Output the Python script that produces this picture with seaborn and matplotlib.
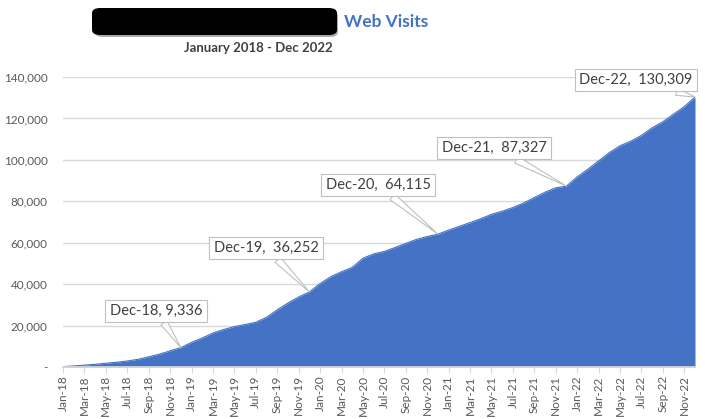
import matplotlib
matplotlib.use("Agg")
import matplotlib.pyplot as plt
import seaborn as sns
import pandas as pd
import numpy as np
from matplotlib.patches import FancyBboxPatch
from matplotlib.ticker import FuncFormatter

# ---- data ----
months = pd.date_range("2018-01-01", "2022-12-01", freq="MS")
month_labels = [d.strftime("%b-%y") for d in months]
visits = [
    200, 500, 900, 1300, 1800, 2300, 2900, 3700, 4900, 6200, 7800, 9336,
    11900, 14000, 16400, 18100, 19500, 20500, 21600, 24000, 27600, 30900, 33800, 36252,
    40300, 43600, 46000, 48100, 52500, 54600, 55800, 57700, 59700, 61600, 63000, 64115,
    66100, 67900, 69700, 71600, 73700, 75200, 77000, 79200, 81800, 84400, 86500, 87327,
    91800, 95500, 99500, 103500, 106800, 109000, 111800, 115500, 118400, 122100, 125700, 130309,
]
callout_idx = [11, 23, 35, 47, 59]
callout_text = ["Dec-18, 9,336", "Dec-19,  36,252", "Dec-20,  64,115", "Dec-21,  87,327", "Dec-22,  130,309"]
callout_pos = [(156, 311), (266, 248), (378, 185), (494, 148), (636, 80)]  # pixel centers
yticks = [0, 20000, 40000, 60000, 80000, 100000, 120000, 140000]

df = pd.DataFrame({"idx": np.arange(len(visits)), "visits": visits, "label": month_labels})

sns.set_theme(style="white")
plt.rcParams["font.family"] = ["Lato", "DejaVu Sans"]

W, H = 705, 419
fig = plt.figure(figsize=(W / 100, H / 100), dpi=100)
ax = fig.add_axes([63 / W, 1 - 367 / H, (695 - 63) / W, (367 - 77) / H])

blue = "#4472C4"
sns.lineplot(data=df, x="idx", y="visits", ax=ax, color=blue, linewidth=0.8)
ax.fill_between(df["idx"], 0, df["visits"], color=blue, linewidth=0, zorder=2)

ax.set_xlim(0, len(visits) - 1)
ax.set_ylim(0, 140000)
ax.set_yticks(yticks)
ax.yaxis.set_major_formatter(FuncFormatter(lambda v, p: "-" if v == 0 else f"{int(v):,}"))
ax.set_xticks(df["idx"][::2])
ax.set_xticklabels(df["label"][::2], rotation=90)
ax.set_xlabel("")
ax.set_ylabel("")
ax.grid(axis="y", color="#D9D9D9", linewidth=1, zorder=0)
ax.set_axisbelow(True)
for s in ["top", "right", "left"]:
    ax.spines[s].set_visible(False)
ax.spines["bottom"].set_color("#D9D9D9")
ax.tick_params(axis="y", length=0, pad=11, labelsize=8.5, labelcolor="#595959")
ax.tick_params(axis="x", length=4, width=0.8, color="#D9D9D9", direction="out", pad=2,
               labelsize=8.5, labelcolor="#595959", bottom=True)

# callouts
for i, txt, (px, py) in zip(callout_idx, callout_text, callout_pos):
    ax.annotate(
        txt, xy=(df["idx"][i], df["visits"][i]), xycoords="data",
        xytext=(px / W, 1 - py / H), textcoords="figure fraction",
        ha="center", va="center", fontsize=10.5, color="#404040",
        bbox=dict(boxstyle="square,pad=0.3", fc="white", ec="#BFBFBF", lw=0.8),
        arrowprops=dict(arrowstyle="wedge,tail_width=0.5,shrink_factor=0.5", fc="white",
                        ec="#BFBFBF", lw=0.8, shrinkA=0, shrinkB=0),
        zorder=5,
    )

# title: redacted box + "Web Visits"
shadow = FancyBboxPatch((95 / W, 1 - 37 / H), (338 - 95) / W, 26 / H,
                        boxstyle="round,pad=0,rounding_size=0.012", transform=fig.transFigure,
                        fc="#555555", ec="none", alpha=0.5)
fig.patches.append(shadow)
box = FancyBboxPatch((92 / W, 1 - 35 / H), (337 - 92) / W, 27 / H,
                     boxstyle="round,pad=0,rounding_size=0.012", transform=fig.transFigure,
                     fc="black", ec="none")
fig.patches.append(box)
fig.text(344 / W, 1 - 22 / H, "Web Visits", ha="left", va="center", fontsize=12.5,
         fontweight="bold", color="#4472C4")
fig.text(258 / W, 1 - 48 / H, "January 2018 - Dec 2022", ha="center", va="center",
         fontsize=9.5, fontweight="bold", color="#404040")

fig.savefig("out.png", dpi=100, facecolor="white")
